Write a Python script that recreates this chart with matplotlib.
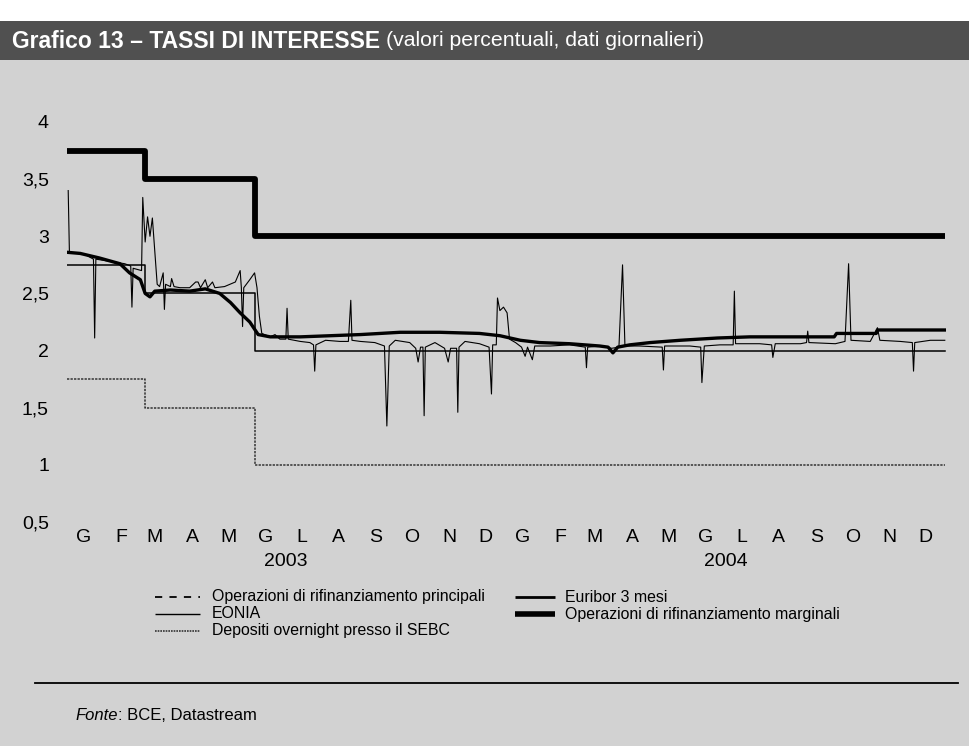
import matplotlib
matplotlib.use('Agg')
import matplotlib.pyplot as plt
import pandas as pd
from matplotlib.lines import Line2D
from matplotlib.patches import Rectangle

# ---------------- data ----------------
policy_dates = ['2003-01-01', '2003-03-07', '2003-06-06', '2004-12-31']
marginal = [3.75, 3.50, 3.00, 3.00]
mro = [2.75, 2.50, 2.00, 2.00]
deposit = [1.75, 1.50, 1.00, 1.00]

eonia_dates = [
    '2003-01-02', '2003-01-03', '2003-01-16', '2003-01-23', '2003-01-24', '2003-01-25',
    '2003-02-06', '2003-02-18', '2003-02-23', '2003-02-24', '2003-02-25', '2003-03-04',
    '2003-03-05', '2003-03-07', '2003-03-09', '2003-03-11', '2003-03-13', '2003-03-17',
    '2003-03-19', '2003-03-22', '2003-03-23', '2003-03-24', '2003-03-28', '2003-03-29',
    '2003-03-31', '2003-04-05', '2003-04-13', '2003-04-18', '2003-04-20', '2003-04-22',
    '2003-04-26', '2003-04-28', '2003-05-02', '2003-05-04', '2003-05-12', '2003-05-21',
    '2003-05-25', '2003-05-26', '2003-05-27', '2003-05-28', '2003-06-02', '2003-06-06',
    '2003-06-08', '2003-06-10', '2003-06-12', '2003-06-19', '2003-06-23', '2003-06-27',
    '2003-07-02', '2003-07-03', '2003-07-04', '2003-07-14', '2003-07-22', '2003-07-25',
    '2003-07-26', '2003-07-27', '2003-08-04', '2003-08-16', '2003-08-23', '2003-08-25',
    '2003-08-26', '2003-09-02', '2003-09-14', '2003-09-22', '2003-09-24', '2003-09-26',
    '2003-10-01', '2003-10-13', '2003-10-18', '2003-10-20', '2003-10-22', '2003-10-24',
    '2003-10-25', '2003-10-26', '2003-11-03', '2003-11-11', '2003-11-14', '2003-11-16',
    '2003-11-21', '2003-11-22', '2003-11-23', '2003-11-28', '2003-12-10', '2003-12-18',
    '2003-12-20', '2003-12-21', '2003-12-24', '2003-12-25', '2003-12-27', '2003-12-30',
    '2004-01-02', '2004-01-04', '2004-01-09', '2004-01-14', '2004-01-17', '2004-01-19',
    '2004-01-23', '2004-01-25', '2004-02-07', '2004-02-23', '2004-03-07', '2004-03-08',
    '2004-03-09', '2004-03-19', '2004-03-29', '2004-04-04', '2004-04-07', '2004-04-09',
    '2004-04-21', '2004-05-10', '2004-05-11', '2004-05-12', '2004-06-02', '2004-06-11',
    '2004-06-12', '2004-06-14', '2004-06-27', '2004-07-08', '2004-07-09', '2004-07-10',
    '2004-07-30', '2004-08-09', '2004-08-10', '2004-08-12', '2004-09-02', '2004-09-07',
    '2004-09-08', '2004-09-09', '2004-10-01', '2004-10-09', '2004-10-12', '2004-10-14',
    '2004-10-30', '2004-11-05', '2004-11-07', '2004-11-24', '2004-12-04', '2004-12-05',
    '2004-12-06', '2004-12-19', '2004-12-31',
]
eonia_values = [
    3.40, 2.86, 2.84, 2.80, 2.11, 2.80,
    2.78, 2.76, 2.74, 2.38, 2.72, 2.70,
    3.34, 2.95, 3.17, 3.00, 3.16, 2.58,
    2.56, 2.68, 2.36, 2.58, 2.56, 2.63,
    2.56, 2.55, 2.55, 2.60, 2.60, 2.55,
    2.62, 2.55, 2.60, 2.55, 2.56, 2.60,
    2.70, 2.55, 2.21, 2.55, 2.62, 2.68,
    2.55, 2.30, 2.15, 2.12, 2.14, 2.10,
    2.10, 2.37, 2.10, 2.08, 2.07, 2.05,
    1.82, 2.05, 2.09, 2.08, 2.08, 2.44,
    2.09, 2.08, 2.07, 2.04, 1.34, 2.04,
    2.09, 2.07, 2.02, 1.90, 2.03, 2.03,
    1.43, 2.03, 2.07, 2.02, 1.90, 2.02,
    2.02, 1.46, 2.03, 2.08, 2.06, 2.03,
    1.62, 2.05, 2.05, 2.46, 2.35, 2.38,
    2.33, 2.10, 2.07, 2.03, 1.95, 2.03,
    1.92, 2.04, 2.04, 2.05, 2.03, 1.85,
    2.03, 2.04, 2.02, 2.03, 2.75, 2.04,
    2.04, 2.03, 1.83, 2.04, 2.04, 2.03,
    1.72, 2.04, 2.05, 2.05, 2.52, 2.06,
    2.06, 2.05, 1.94, 2.06, 2.06, 2.07,
    2.17, 2.07, 2.06, 2.08, 2.76, 2.09,
    2.08, 2.20, 2.09, 2.08, 2.07, 1.82,
    2.07, 2.09, 2.09,
]

euribor_dates = [
    '2003-01-01', '2003-01-12', '2003-01-28', '2003-02-14', '2003-02-22', '2003-03-03',
    '2003-03-07', '2003-03-11', '2003-03-15', '2003-03-28', '2003-04-13', '2003-04-26',
    '2003-05-08', '2003-05-17', '2003-05-25', '2003-06-02', '2003-06-09', '2003-06-19',
    '2003-07-14', '2003-08-08', '2003-09-02', '2003-10-05', '2003-11-07', '2003-12-10',
    '2003-12-27', '2004-01-13', '2004-01-29', '2004-02-23', '2004-03-19', '2004-03-26',
    '2004-03-30', '2004-04-03', '2004-04-13', '2004-04-30', '2004-05-25', '2004-06-25',
    '2004-07-22', '2004-09-02', '2004-09-30', '2004-10-02', '2004-11-04', '2004-11-05',
    '2004-12-31',
]
euribor_values = [
    2.86, 2.85, 2.81, 2.76, 2.68, 2.62,
    2.50, 2.47, 2.52, 2.53, 2.52, 2.54,
    2.50, 2.42, 2.33, 2.25, 2.14, 2.12,
    2.12, 2.13, 2.14, 2.16, 2.16, 2.15,
    2.13, 2.09, 2.07, 2.06, 2.04, 2.03,
    1.98, 2.03, 2.05, 2.07, 2.09, 2.11,
    2.12, 2.12, 2.12, 2.15, 2.15, 2.18,
    2.18,
]

month_labels = ['G', 'F', 'M', 'A', 'M', 'G', 'L', 'A', 'S', 'O', 'N', 'D'] * 2
year_labels = ['2003', '2004']
y_ticks = [0.5, 1, 1.5, 2, 2.5, 3, 3.5, 4]
y_tick_labels = ['0,5', '1', '1,5', '2', '2,5', '3', '3,5', '4']

legend_labels = ['Operazioni di rifinanziamento principali', 'EONIA',
                 'Depositi overnight presso il SEBC', 'Euribor 3 mesi',
                 'Operazioni di rifinanziamento marginali']

# ---------------- figure ----------------
plt.rcParams['font.family'] = ['Liberation Sans', 'DejaVu Sans']
W, H = 969, 746
BG = '#d2d2d2'
fig = plt.figure(figsize=(W / 100, H / 100), dpi=100, facecolor=BG)

def fx(px):
    return px / W

def fy(py):
    return (H - py) / H

# white strip at top and dark title band
fig.add_artist(Rectangle((0, fy(21)), 1, 21 / H, transform=fig.transFigure,
                         facecolor='white', edgecolor='none', zorder=0))
fig.add_artist(Rectangle((0, fy(60)), 1, 39 / H, transform=fig.transFigure,
                         facecolor='#505050', edgecolor='none', zorder=0))

t1 = fig.text(fx(12), fy(41), 'Grafico 13 \u2013 TASSI DI INTERESSE', color='white',
              fontsize=16.5, fontweight='bold', va='center', ha='left')
fig.canvas.draw()
bb = t1.get_window_extent()
fig.text(bb.x1 / W + fx(6), fy(41), '(valori percentuali, dati giornalieri)', color='white',
         fontsize=15.3, va='center', ha='left')

ax = fig.add_axes([fx(67), fy(522), fx(879), 400 / H])
ax.set_facecolor('none')
for s in ax.spines.values():
    s.set_visible(False)

pd_policy = pd.to_datetime(policy_dates)
ax.step(pd_policy, marginal, where='post', color='black', lw=4.2, solid_capstyle='butt', zorder=5)
ax.step(pd_policy, mro, where='post', color='black', lw=1.1, zorder=3)
ax.step(pd_policy, deposit, where='post', color='#333333', lw=1.1, ls=(0, (1.5, 0.8)), zorder=3)
ax.plot(pd.to_datetime(eonia_dates), eonia_values, color='black', lw=0.8, zorder=4)
ax.plot(pd.to_datetime(euribor_dates), euribor_values, color='black', lw=2.4, zorder=5)

ax.set_xlim(pd.Timestamp('2003-01-01'), pd.Timestamp('2005-01-01'))
ax.set_ylim(0.5, 4)
ax.set_yticks(y_ticks)
ax.set_yticklabels(y_tick_labels, fontsize=14)
ax.tick_params(axis='y', length=0, pad=13)

mid = pd.date_range('2003-01-01', periods=24, freq='MS') + pd.Timedelta(days=14)
ax.set_xticks(mid)
ax.set_xticklabels(month_labels, fontsize=14)
ax.tick_params(axis='x', length=0, pad=5)

for lab, d in zip(year_labels, ['2003-07-02', '2004-07-02']):
    ax.annotate(lab, xy=(pd.Timestamp(d), -0.1), xycoords=('data', 'axes fraction'),
                ha='center', va='center', fontsize=14, annotation_clip=False)

# ---------------- legend ----------------
leg_fs = 11.4
rows = [597, 614, 631]
styles = [dict(lw=1.3, ls=(0, (4, 4))), dict(lw=1.0), dict(lw=1.2, ls=(0, (1, 0.6)), color='#333333'),
          dict(lw=2.0), dict(lw=4.0)]
positions = [(155, 200, 212, rows[0]), (155, 200, 212, rows[1]), (155, 200, 212, rows[2]),
             (515, 555, 565, rows[0]), (515, 555, 565, rows[1])]
for lab, st, (x0, x1, xt, yy) in zip(legend_labels, styles, positions):
    kw = dict(color='black', solid_capstyle='butt')
    kw.update(st)
    fig.add_artist(Line2D([fx(x0), fx(x1)], [fy(yy), fy(yy)], transform=fig.transFigure, **kw))
    fig.text(fx(xt), fy(yy), lab, fontsize=leg_fs, va='center', ha='left')

# bottom rule and source
fig.add_artist(Line2D([fx(35), fx(958)], [fy(683), fy(683)], transform=fig.transFigure,
                      color='black', lw=1.3))
t = fig.text(fx(75), fy(715), 'Fonte', fontsize=12, style='italic', va='center', ha='left')
fig.canvas.draw()
bb = t.get_window_extent()
fig.text(bb.x1 / W, fy(715), ': BCE, Datastream', fontsize=12, va='center', ha='left')

fig.savefig('out.png', dpi=100, facecolor=BG)
